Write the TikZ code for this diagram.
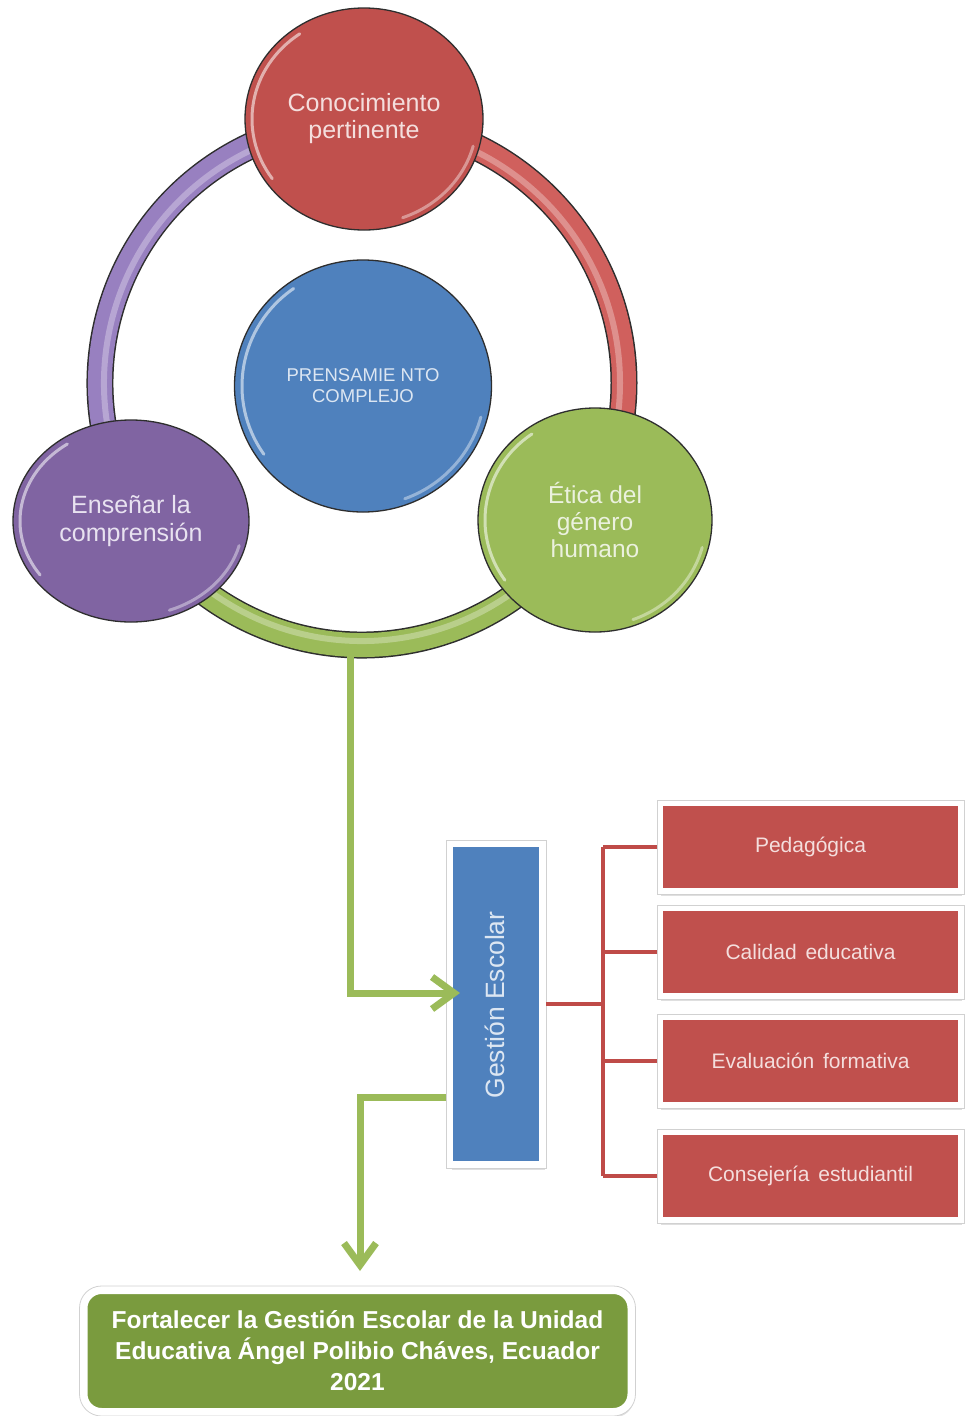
\documentclass[tikz,border=0pt]{standalone}
\usepackage{fontspec}
\setmainfont{Liberation Sans}
\usetikzlibrary{shapes.geometric,arrows.meta,shadows}
\definecolor{cred}{HTML}{C0504D}
\definecolor{cblue}{HTML}{4F81BD}
\definecolor{cpurple}{HTML}{8064A2}
\definecolor{cgreen}{HTML}{9BBB59}
\definecolor{cdkgreen}{HTML}{7A9B3E}
\definecolor{outl}{HTML}{2E2E2E}
\definecolor{tred}{HTML}{F4DEDD}
\definecolor{tblue}{HTML}{DCE6F2}
\definecolor{tpurple}{HTML}{E8E2F0}
\definecolor{tgreen}{HTML}{EBF1DE}
\definecolor{ringred}{HTML}{D0605D}
\definecolor{ringpurple}{HTML}{9880C0}
\definecolor{ringgreen}{HTML}{9BBB59}
\definecolor{brline}{HTML}{BF4B48}
\begin{document}
\begin{tikzpicture}[x=1pt,y=-1pt,
  bubble/.style={ellipse, draw=outl, line width=1.3pt, inner sep=0pt, align=center},
  redbox/.style={rectangle, draw=white, line width=6pt, fill=cred, text=tred,
    minimum width=301pt, minimum height=88pt, inner sep=0pt,
    font=\fontsize{21}{24}\selectfont,
    drop shadow={shadow xshift=1pt, shadow yshift=-5pt, opacity=.25}},
  garrow/.style={draw=cgreen, line width=7pt, -{Straight Barb[length=22pt,width=32pt]}},
  rline/.style={draw=brline, line width=4pt},
  frameline/.style={draw=black!18, line width=0.8pt},
  shine/.style={white, opacity=.55, line width=3pt, line cap=round}]
\useasboundingbox (0,0) rectangle (964,1416);

% ring
\coordinate (rc) at (362,383);
\foreach \a/\b/\c in {150/270/ringpurple, 270/390/ringred, 30/150/ringgreen}{
  \draw[outl, line width=27pt] (rc) ++(\a:262) arc[start angle=\a, end angle=\b, radius=262];
  \draw[\c, line width=24pt] (rc) ++(\a:262) arc[start angle=\a, end angle=\b, radius=262];
  \draw[white, opacity=.3, line width=6pt] (rc) ++(\a:258) arc[start angle=\a, end angle=\b, radius=258];
}
\coordinate (ringbot) at (350,655);

% bubbles
\node[bubble, fill=cred, text=tred, minimum width=238pt, minimum height=222pt,
  font=\fontsize{25}{27}\selectfont] (kn) at (364,119) {Conocimiento\\pertinente};
\node[bubble, fill=cblue, text=tblue, minimum width=257pt, minimum height=252pt,
  font=\fontsize{18.5}{21}\selectfont] (pc) at (363,386) {PRENSAMIE NTO\\COMPLEJO};
\node[bubble, fill=cpurple, text=tpurple, minimum width=236pt, minimum height=202pt,
  font=\fontsize{25}{28}\selectfont] (ens) at (131,521) {Enseñar la\\comprensión};
\node[bubble, fill=cgreen, text=tgreen, minimum width=234pt, minimum height=224pt,
  font=\fontsize{24.5}{27}\selectfont] (eti) at (595,520) {Ética del\\género\\humano};

\foreach \n/\rx/\ry in {kn/119/111, pc/128/126, ens/118/101, eti/117/112}{
  \draw[shine] (\n.center) ++(145:{\rx-7} and {\ry-7})
     arc[start angle=145, end angle=235, x radius=\rx-7, y radius=\ry-7];
  \draw[shine, opacity=.4] (\n.center) ++(15:{\rx-6} and {\ry-6})
     arc[start angle=15, end angle=70, x radius=\rx-6, y radius=\ry-6];
}

% Gestion Escolar
\node[draw=white, line width=7pt, fill=cblue, minimum width=93pt, minimum height=321pt,
  inner sep=0pt, drop shadow={shadow xshift=2pt, shadow yshift=-5pt, opacity=.25}] (gest) at (496,1004) {};
\draw[frameline] (gest.south west) rectangle (gest.north east);
\node[rotate=90, text=tblue, font=\fontsize{26.5}{30}\selectfont] (gestlbl) at (495,1005) {Gestión Escolar};

% red boxes
\node[redbox] (b1) at (810.5,847) {Pedagógica};
\node[redbox] (b2) at (810.5,952) {Calidad \hspace{3pt}educativa};
\node[redbox] (b3) at (810.5,1061) {Evaluación \hspace{3pt}formativa};
\node[redbox] (b4) at (810.5,1176) {Consejería \hspace{3pt}estudiantil};
\foreach \b in {b1,b2,b3,b4}{
  \draw[frameline] (\b.south west) rectangle (\b.north east);
}

% bracket
\draw[rline] (gest.east) -- ++(57,0) coordinate (bj);
\draw[rline] (bj |- b1.west) -- (bj |- b4.west);
\foreach \b in {b1,b2,b3,b4}{
  \draw[rline] (bj |- \b.west) -- (\b.west);
}

% final box
\node[draw=white, line width=8pt, fill=cdkgreen, rounded corners=18pt,
  minimum width=548pt, minimum height=122pt, text=white, align=center,
  font=\bfseries\fontsize{24.5}{31}\selectfont,
  drop shadow={shadow xshift=2pt, shadow yshift=-5pt, opacity=.25}] (fin) at (357.5,1351)
  {Fortalecer la Gestión Escolar de la Unidad\\Educativa Ángel Polibio Cháves, Ecuador\\2021};
\draw[frameline, rounded corners=22pt] (fin.south west) rectangle (fin.north east);

% green arrows
\draw[garrow] (ringbot) |- ([xshift=14pt,yshift=11pt]gest.west);
\draw[garrow] ([yshift=-93pt]gest.west) -| ([xshift=2.5pt,yshift=15pt]fin.north);
\end{tikzpicture}
\end{document}
